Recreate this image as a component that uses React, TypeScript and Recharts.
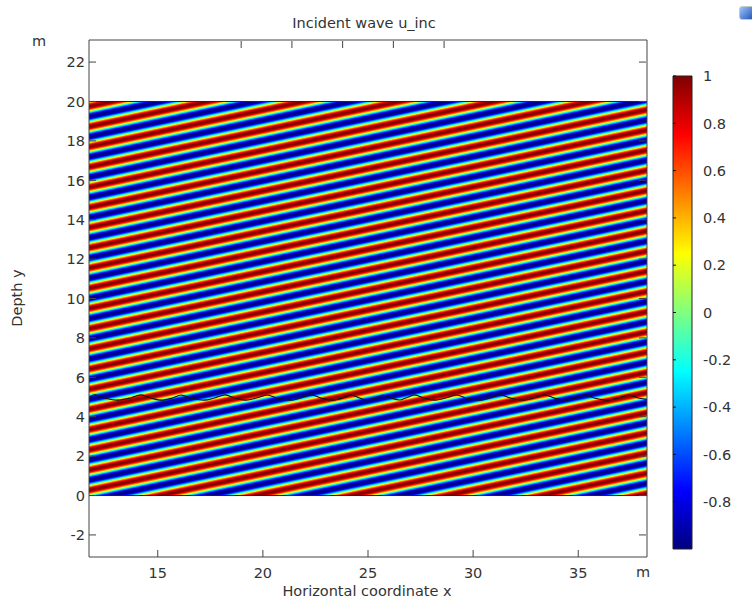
import React from 'react'
import { ComposedChart, Line, XAxis, YAxis, ReferenceArea, BarChart, Bar } from 'recharts'

// axis ranges (metres)
const xDomain = [11.73, 38.27]
const yDomain = [-3.12, 23.12]
const xTicks = [15, 20, 25, 30, 35]
const yTicks = [-2, 0, 2, 4, 6, 8, 10, 12, 14, 16, 18, 20, 22]

// computational domain holding the incident wave
const fieldX = [11.73, 38.27]
const fieldY = [0, 20]
const wavelength = 1.0 // m
const waveAngleDeg = 12.7 // from vertical
const crestPoint = [11.97, 19.8] // a point where u_inc = 1

// wavy interface near y = 5
const curveX = [
  11.73, 12.0, 12.5, 13.1, 13.7, 14.2, 14.7, 15.2, 15.7, 16.1, 16.6, 17.2, 17.7, 18.2, 18.7, 19.2,
  19.7, 20.2, 20.7, 21.3, 21.8, 22.3, 22.8, 23.3, 23.8, 24.2, 24.6, 24.95, 25.35, 25.7, 26.1, 26.5,
  26.8, 27.2, 27.7, 28.2, 28.7, 29.2, 29.7, 30.3, 30.8, 31.3, 31.8, 32.4, 32.9, 33.4, 33.9, 34.4,
  34.85, 35.3, 35.8, 36.4, 36.9, 37.4, 37.9, 38.27,
]
const curveY = [
  4.95, 5.11, 4.94, 4.84, 4.95, 5.11, 4.94, 4.84, 4.95, 5.1, 4.94, 4.84, 4.95, 5.11, 4.94, 4.84,
  4.95, 5.1, 4.94, 4.84, 4.95, 5.11, 4.94, 4.84, 4.95, 5.1, 4.95, 4.85, 4.95, 5.09, 4.95, 4.85,
  4.95, 5.11, 4.94, 4.84, 4.95, 5.1, 4.94, 4.84, 4.95, 5.11, 4.94, 4.84, 4.95, 5.1, 4.94, 4.84,
  4.95, 5.11, 4.94, 4.84, 4.95, 5.1, 4.94, 4.88,
]

// colour legend
const colorRange = [-1, 1]
const colorTicks = [1, 0.8, 0.6, 0.4, 0.2, 0, -0.2, -0.4, -0.6, -0.8]

const FONT = '"DejaVu Sans", Verdana, sans-serif'
const TEXT = '#333'
const FRAME = '#444'
const TM = 4

const curveData = curveX.map((x, i) => ({ x, y: curveY[i] }))

function jet(v: number) {
  const t = (v + 1) / 2
  const c = (a: number) => Math.round(255 * Math.max(0, Math.min(1, a)))
  return `rgb(${c(1.5 - Math.abs(4 * t - 3))},${c(1.5 - Math.abs(4 * t - 2))},${c(1.5 - Math.abs(4 * t - 1))})`
}

function WaveField(props: any) {
  const { x, y, width, height } = props
  const sx = width / (fieldX[1] - fieldX[0])
  const sy = height / (fieldY[1] - fieldY[0])
  const th = (waveAngleDeg * Math.PI) / 180
  const lx = wavelength / Math.sin(th)
  const ly = wavelength / Math.cos(th)
  const px = x + (crestPoint[0] - fieldX[0]) * sx
  const py = y + (fieldY[1] - crestPoint[1]) * sy
  const gx = 1 / (lx * sx)
  const gy = 1 / (ly * sy)
  const g2 = gx * gx + gy * gy
  const steps = 64
  const stops = []
  for (let i = 0; i <= steps; i++) {
    const t = i / steps
    stops.push(<stop key={i} offset={t} stopColor={jet(Math.cos(2 * Math.PI * t))} />)
  }
  return (
    <g>
      <defs>
        <linearGradient id="uinc" gradientUnits="userSpaceOnUse" spreadMethod="repeat"
          x1={px} y1={py} x2={px + gx / g2} y2={py + gy / g2}>
          {stops}
        </linearGradient>
      </defs>
      <rect x={x} y={y} width={width} height={height} fill="url(#uinc)" />
      <line x1={x} x2={x + width} y1={y} y2={y} stroke="#222" />
      <line x1={x} x2={x + width} y1={y + height} y2={y + height} stroke="#222" />
    </g>
  )
}

const BottomTick = (p: any) => (
  <g>
    <line x1={p.x} x2={p.x} y1={p.y - TM} y2={p.y - TM - 7} stroke={FRAME} />
    <text x={p.x} y={p.y - TM + 16} dy="0.36em" textAnchor="middle" fontSize={14.5} fontFamily={FONT} fill={TEXT}>
      {p.payload.value}
    </text>
  </g>
)
const TopTick = (p: any) => <line x1={p.x} x2={p.x} y1={p.y + TM + 1} y2={p.y + TM + 8} stroke={FRAME} />
const LeftTick = (p: any) => (
  <g>
    <line x1={p.x + TM} x2={p.x + TM + 7} y1={p.y} y2={p.y} stroke={FRAME} />
    <text x={p.x} y={p.y} dy="0.36em" textAnchor="end" fontSize={14.5} fontFamily={FONT} fill={TEXT}>
      {p.payload.value}
    </text>
  </g>
)
const RightTick = (p: any) => <line x1={p.x - TM - 1} x2={p.x - TM - 8} y1={p.y} y2={p.y} stroke={FRAME} />

const BarTick = (p: any) => (
  <g>
    <line x1={p.x - 11 - 19} x2={p.x - 11 - 16} y1={p.y} y2={p.y} stroke="#111" />
    <text x={p.x} y={p.y} dy="0.36em" textAnchor="start" fontSize={14.5} fontFamily={FONT} fill={TEXT}>
      {p.payload.value}
    </text>
  </g>
)

const barStops = Array.from({ length: 41 }, (_, i) => i / 40)

const label: React.CSSProperties = { position: 'absolute', fontFamily: FONT, fontSize: 14.5, color: TEXT, whiteSpace: 'nowrap' }

export default function App() {
  return (
    <div style={{ position: 'absolute', left: 0, top: 0, width: 752, height: 602, background: '#fff', overflow: 'hidden' }}>
      <ComposedChart width={752} height={602} data={curveData} margin={{ top: 39, right: 104, bottom: 0, left: 0 }}>
        <XAxis dataKey="x" type="number" domain={xDomain} ticks={xTicks} allowDataOverflow height={45}
          stroke={FRAME} tickSize={0} tickMargin={TM} tickLine={false} tick={<BottomTick />} />
        <XAxis xAxisId="top" orientation="top" type="number" domain={xDomain} ticks={xTicks} allowDataOverflow height={1}
          stroke={FRAME} tickSize={0} tickMargin={TM} tickLine={false} tick={<TopTick />} />
        <YAxis type="number" domain={yDomain} ticks={yTicks} allowDataOverflow width={89}
          stroke={FRAME} tickSize={0} tickMargin={TM} tickLine={false} tick={<LeftTick />} />
        <YAxis yAxisId="right" orientation="right" type="number" domain={yDomain} ticks={yTicks} allowDataOverflow width={1}
          stroke={FRAME} tickSize={0} tickMargin={TM} tickLine={false} tick={<RightTick />} />
        <ReferenceArea x1={fieldX[0]} x2={fieldX[1]} y1={fieldY[0]} y2={fieldY[1]} shape={<WaveField />} />
        <Line dataKey="y" type="monotone" stroke="#111" strokeWidth={1.1} dot={false} isAnimationActive={false} />
      </ComposedChart>

      <div style={{ position: 'absolute', left: 652, top: 0 }}>
        <BarChart width={100} height={602} data={[{ k: 'u', v: colorRange }]} barCategoryGap={0}
          margin={{ top: 76, right: 0, bottom: 53, left: 21 }}>
          <defs>
            <linearGradient id="jetbar" x1="0" y1="0" x2="0" y2="1">
              {barStops.map((t) => (
                <stop key={t} offset={t} stopColor={jet(1 - 2 * t)} />
              ))}
            </linearGradient>
          </defs>
          <XAxis dataKey="k" hide />
          <YAxis orientation="right" type="number" domain={colorRange} ticks={colorTicks} width={60}
            axisLine={false} tickSize={0} tickMargin={11} tickLine={false} tick={<BarTick />} />
          <Bar dataKey="v" fill="url(#jetbar)" stroke="#222" strokeWidth={1} isAnimationActive={false} />
        </BarChart>
      </div>

      <div style={{ ...label, left: 364, top: 15, transform: 'translateX(-50%)' }}>Incident wave u_inc</div>
      <div style={{ ...label, left: 367, top: 583, transform: 'translateX(-50%)' }}>Horizontal coordinate x</div>
      <div style={{ ...label, left: 17, top: 298, transform: 'translate(-50%, -50%) rotate(-90deg)' }}>Depth y</div>
      <div style={{ ...label, left: 32, top: 33 }}>m</div>
      <div style={{ ...label, left: 636, top: 564 }}>m</div>
      <div style={{ position: 'absolute', left: 739, top: 6, width: 14, height: 12, borderRadius: 3,
        background: 'linear-gradient(135deg, #9cc4ff, #1d4fb0)', border: '1px solid #c8c8c8' }} />
    </div>
  )
}
